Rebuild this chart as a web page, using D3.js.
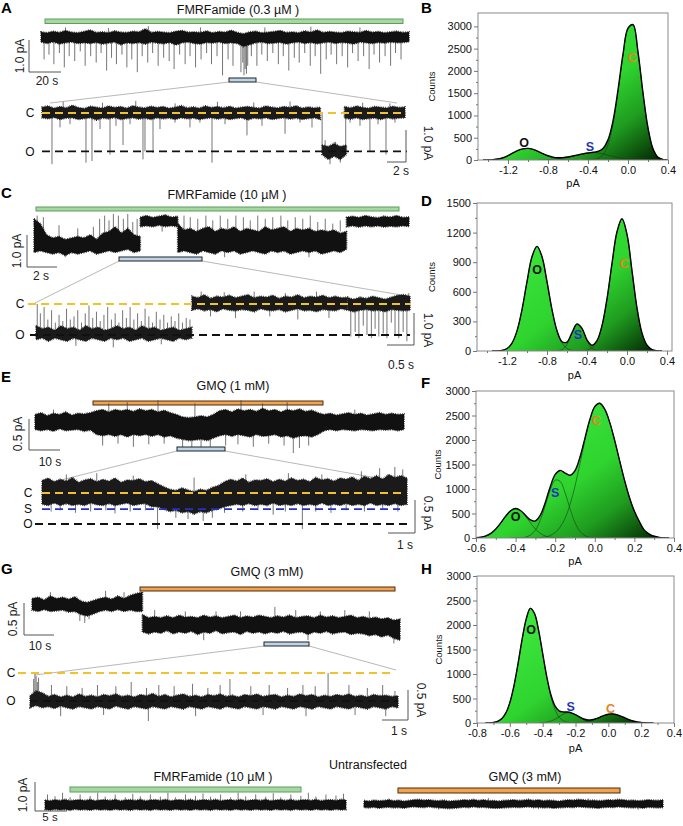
<!DOCTYPE html>
<html>
<head>
<meta charset="utf-8">
<script src="https://cdn.jsdelivr.net/npm/d3@7"></script>
<style>
  body { margin: 0; background: #fff; }
  svg { display: block; }
  text { font-family: "Liberation Sans", Arial, sans-serif; }
</style>
</head>
<body>
<svg id="fig" width="683" height="826"></svg>
<script>
// ---------- current traces, pA (closed level = 0) ----------
// dense recordings are kept as [upper, lower] envelope pairs per time step,
// single events (brief openings / spikes) as [time, to, from]
const aTopBand = [
  [.16,-.16],[.13,-.2],[.18,-.15],[.14,-.22],[.2,-.18],[.15,-.16],[.13,-.2],[.17,-.18],[.22,-.2],[.14,-.17],
  [.16,-.22],[.13,-.19],[.19,-.16],[.15,-.24],[.14,-.18],[.18,-.2],[.16,-.17],[.26,-.22],[.14,-.16],[.17,-.19],
  [.15,-.21],[.13,-.17],[.18,-.25],[.2,-.18],[.15,-.16],[.16,-.2],[.14,-.22],[.19,-.17],[.13,-.19],[.17,-.16],
  [.15,-.2],[.21,-.18],[.14,-.2],[.1,-.3],[.16,-.24],[.18,-.18],[.13,-.16],[.15,-.2],[.17,-.19],[.2,-.17],
  [.14,-.22],[.16,-.18],[.13,-.16],[.19,-.2],[.15,-.17],[.22,-.21],[.14,-.18],[.17,-.16],[.15,-.2],[.13,-.17],
  [.18,-.19],[.16,-.22],[.14,-.16],[.2,-.18],[.15,-.2],[.17,-.17],[.13,-.19],[.16,-.16],[.18,-.18],[.14,-.17],[.16,-.15]
];
const aTopEvents = [
  [0.5,-.7],[1.3,-.55],[2.1,-.85],[3,-.5],[3.8,-.95],[4.6,-.6],[5.5,-.75],[6.4,-.45],[7.2,-.9],[8.1,-.6],
  [9,-.8],[9.8,-.5],[10.7,-1.05],[11.5,-.65],[12.3,-.85],[13.2,-.55],[14,-.95],[14.8,-.7],[15.7,-1.1],[16.5,-.6],
  [17.4,-.8],[18.2,-.5],[19.1,-.9],[20,-.65],[20.9,-.75],[21.7,-1],[22.6,-.55],[23.5,-.85],[24.3,-.6],[25.2,-.95],
  [26.1,-.7],[27,-.5],[27.8,-.85],[28.7,-.6],[29.6,-1.2],[30.5,-.7],[31.3,-.9],[32.6,-1.1],[32.9,-.8],[33.1,-1.2],
  [33.3,-1.0],[33.5,-1.15],[33.7,-.9],[34.3,-.6],[35.2,-.9],[36,-.55],[36.9,-.75],[37.8,-.5],[38.7,-.85],[39.5,-.6],
  [40.4,-1.05],[41.3,-.65],[42.1,-.8],[43,-.5],[43.9,-.9],[44.7,-.6],[45.6,-1.15],[46.5,-.7],[47.3,-.55],[48.2,-.85],
  [49.1,-.6],[50,-.95],[50.8,-.5],[51.7,-.75],[52.6,-.6],[53.5,-1],[54.3,-.55],[55.2,-.8],[56.1,-.6],[57,-.9],
  [57.8,-.5],[58.7,-.7],
  [4,.3],[11,.28],[17.5,.34],[26,.3],[36.5,.3],[44,.32],[52,.3]
];

const aZoomBand = [
  [.18,-.15],[.22,-.18],[.15,-.14],[.2,-.2],[.16,-.16],[.24,-.15],[.17,-.2],[.14,-.17],[.21,-.15],[.18,-.22],
  [.15,-.16],[.22,-.18],[.17,-.14],[.2,-.2],[.15,-.17],[.23,-.15],[.18,-.19],[.16,-.16],[.21,-.2],[.17,-.15],
  [.2,-.18],[.15,-.16],[.18,-.2],[.23,-.15],[.16,-.18],[.19,-.16],[.15,-.2],[.22,-.17],[.17,-.15],[.2,-.19],
  [.16,-.16],[.21,-.2],[.15,-.17],[.18,-.15],[.2,-.22],[.17,-.16],[.15,-.18],[.22,-.15],[.18,-.2],[.16,-.17],
  [.2,-.15],[.17,-.19],[.23,-.16],[.15,-.2],[.19,-.17],[.16,-.15],[.18,-.2],null,null,null,
  [.2,-.16],[.16,-.19],[.22,-.15],[.17,-.2],[.15,-.17],[.2,-.16],[.18,-.2],[.16,-.15],[.21,-.18],[.17,-.16],[.19,-.15]
];
const aZoomBurst = [[-1.0,-1.3],[-1.05,-1.45],[-.95,-1.35],[-1.05,-1.45],[-1.0,-1.3]];
const aZoomEvents = [
  [1.65,-1.6],[2.98,-.45],[4.63,-.35],[7.27,-1.55],[8.26,-1.5],[9.59,-.5],[11.24,-1.3],[12.23,-.4],[13.39,-1.0],
  [14.55,-.35],[16.69,-1.45],[17.02,-1.2],[18.35,-1.25],[19.5,-.5],[21.98,-.3],[24.46,-.45],[26.1,-.3],[28.1,-1.55],
  [30.25,-.35],[33.88,-.7],[36.36,-.4],[40.17,-.65],[42.64,-.3],[44.63,-.45],[46.3,-1.2],[50.2,-1.2],[50.91,-.3],
  [52.56,-.4],[54.2,-1.2],[55.54,-.35],[56.86,-1.3],[58.35,-.3],
  [46.8,-.85,-1.2],[47.6,-1.6,-1.2],[48.5,-.9,-1.2],[49.3,-1.55,-1.2],
  [3.5,.35],[10,.32],[15.5,.38],[22,.3],[29,.35],[35,.33],[41,.36],[53,.32],[57.5,.3]
];
const aLevels = [0, -1.2];

const cTopSeg1 = [
  [.1,-.95],[-.05,-.9],[-.4,-.95],[-.5,-1.0],[-.45,-.95],[-.55,-1.05],[-.5,-.95],[-.45,-1.0],[-.5,-.95],[-.4,-.9],
  [-.55,-1.0],[-.35,-.95],[-.3,-.9],[-.15,-.95],[-.35,-.9],[-.2,-.85],[-.4,-.95],[-.45,-.9]
];
const cTopSeg2 = [[.15,-.15],[.2,-.12],[.14,-.15],[.18,-.1],[.22,-.14],[.15,-.12],[.18,-.15]];
const cTopSeg3 = [
  [-.05,-.95],[-.25,-.9],[-.2,-.95],[-.3,-1.0],[-.2,-.9],[-.15,-.95],[-.3,-1.0],[-.2,-.9],[-.25,-.95],[-.15,-.9],
  [-.3,-1.0],[-.2,-.95],[-.25,-.9],[-.3,-.95],[-.15,-1.0],[-.25,-.9],[-.2,-.95],[-.15,-.9],[-.3,-1.0],[-.2,-.95],
  [-.25,-.9],[-.2,-.95],[-.3,-.9],[-.25,-1.0],[-.3,-.95],[-.25,-.9],[-.35,-.95],[-.3,-.85]
];
const cTopSeg4 = [[.15,-.15],[.18,-.12],[.14,-.16],[.2,-.12],[.16,-.15],[.13,-.12],[.18,-.16],[.15,-.13],[.2,-.15],[.14,-.12],[.16,-.14]];
const cTopEvents = [
  [0.5,.2,-.5],[1.5,.15,-.5],[4,-.1,-.6],[7,-.2,-.6],[9.5,-.15,-.6],[10.5,.1,-.5],[11.3,.2,-.5],[12,.05,-.4],
  [12.7,.25,-.4],[13.5,.2,-.4],[14.3,.1,-.4],[15,.25,-.4],[15.8,0,-.4],[16.5,.1,-.4],
  [24,.2,-.3],[25,.15,-.3],[26.2,.1,-.3],[27.5,.2,-.3],[28.6,.05,-.3],[29.8,.2,-.3],[31,.1,-.3],[32.3,.2,-.3],
  [33.5,.15,-.3],[34.6,.05,-.3],[35.8,.2,-.3],[37,.1,-.3],[38.2,.15,-.3],[39.5,.2,-.3],[40.6,.05,-.3],[41.8,.15,-.3],
  [43,.1,-.3],[44.2,.2,-.3],[45.4,0,-.3],[46.6,.1,-.3],[47.8,-.05,-.3],[49,.05,-.3],
  [5,-1.1,-.9],[20.5,-.3,-.1],[30.5,-1.1,-.9],[44,-1.1,-.9]
];

const cZoomSeg1 = [
  [-.7,-1.15],[-.8,-1.1],[-.75,-1.2],[-.85,-1.1],[-.7,-1.15],[-.8,-1.2],[-.75,-1.1],[-.85,-1.15],[-.7,-1.2],[-.8,-1.1],
  [-.75,-1.15],[-.85,-1.2],[-.8,-1.1],[-.7,-1.15],[-.8,-1.1],[-.75,-1.2],[-.85,-1.15],[-.7,-1.1],[-.8,-1.2],[-.75,-1.15],
  [-.85,-1.1],[-.8,-1.15],[-.75,-1.2],[-.85,-1.1],[-.8,-1.15],[-.75,-1.1]
];
const cZoomSeg2 = [
  [.25,-.2],[.2,-.15],[.3,-.22],[.18,-.18],[.25,-.25],[.22,-.15],[.28,-.2],[.2,-.22],[.25,-.18],[.3,-.2],
  [.2,-.25],[.25,-.15],[.22,-.2],[.28,-.22],[.18,-.18],[.25,-.25],[.22,-.2],[.3,-.15],[.2,-.22],[.25,-.2],
  [.22,-.25],[.28,-.18],[.2,-.2],[.25,-.22],[.2,-.15],[.22,-.2]
];
const cZoomSeg3 = [[.2,-.2],[.15,-.25],[.22,-.2],[.18,-.18],[.25,-.22],[.2,-.2],[.15,-.25],[.22,-.18],[.28,-.2],[.3,-.22],[.25,-.2]];
const cZoomEvents = [
  [0.2,0,-.8],[0.7,-.3,-.8],[1.3,-.1,-.8],[1.9,-.5,-.8],[2.5,-.2,-.8],[3.1,-.6,-.8],[3.7,-.35,-.8],[4.3,-.55,-.8],
  [4.9,-.15,-.8],[5.5,-.5,-.8],[6.1,-.4,-.8],[6.7,-.2,-.8],[7.3,-.6,-.8],[7.9,-.3,-.8],[8.5,-.05,-.8],[9.1,-.45,-.8],
  [9.7,-.25,-.8],[10.3,-.55,-.8],[10.9,-.35,-.8],[11.5,-.1,-.8],[12.1,-.5,-.8],[12.7,-.3,-.8],[13.3,-.6,-.8],
  [13.9,-.2,-.8],[14.5,-.45,-.8],[15.1,-.1,-.8],[15.7,-.5,-.8],[16.3,-.3,-.8],[16.9,-.55,-.8],[17.5,-.15,-.8],
  [18.1,-.4,-.8],[18.7,-.6,-.8],[19.3,-.25,-.8],[19.9,-.5,-.8],[20.5,-.35,-.8],[21.1,-.6,-.8],[21.7,-.4,-.8],
  [22.3,-.55,-.8],[22.9,-.3,-.8],[23.5,-.6,-.8],[24.1,-.45,-.8],[24.7,-.5,-.8],
  [6.4,-1.35,-1],[12.4,-1.4,-1],[20.1,-1.3,-1],
  [26.5,.4],[28,-.4],[30.2,.38],[32,-.45],[35,.4],[37.5,-.4],[40,.35],[42,-.5],[45,.4],[47,-.45],
  [50.5,-1.05],[51.2,-.9],[51.8,-1.1],[52.5,-.7],[53.1,-1.0],[53.8,-1.1],[54.4,-.8],[55,-1.05],[55.7,-.95],
  [56.3,-1.1],[57,-.6],[57.6,-1.0],[58.2,-1.1],[58.9,-.9],[59.5,-1.2],[59.8,.35]
];
const cLevels = [0, -1.0];

const eTopBand = [
  [.12,-.12],[.15,-.14],[.1,-.12],[.14,-.15],[.12,-.11],[.16,-.14],[.11,-.13],[.14,-.12],[.13,-.15],[.15,-.13],
  [.18,-.2],[.2,-.22],[.16,-.2],[.2,-.23],[.18,-.2],[.2,-.24],[.17,-.2],[.21,-.22],[.18,-.2],[.2,-.23],
  [.16,-.2],[.19,-.24],[.15,-.22],[.12,-.26],[.08,-.28],[.07,-.3],[.08,-.29],[.1,-.28],[.08,-.3],[.12,-.26],
  [.18,-.22],[.2,-.2],[.16,-.23],[.21,-.2],[.18,-.22],[.2,-.24],[.17,-.2],[.22,-.23],[.18,-.22],[.2,-.2],
  [.16,-.24],[.2,-.22],[.18,-.26],[.21,-.23],[.17,-.22],[.19,-.24],[.15,-.2],[.12,-.14],[.14,-.12],[.11,-.14],
  [.13,-.12],[.15,-.13],[.12,-.14],[.14,-.12],[.11,-.13],[.13,-.14],[.15,-.12],[.12,-.13],[.14,-.12],[.12,-.14],[.13,-.12]
];
const eTopEvents = [
  [11,-.38],[13.5,-.35],[16,-.4],[18.5,-.36],[21,-.35],[24,-.45],[25.5,-.42],[27,-.47],[28.5,-.4],[31,-.38],
  [33,-.36],[35.5,-.4],[38,-.35],[40.5,-.38],[42,-.5],[43,-.42],[44.5,-.38],
  [12,.3],[15,.32],[20,.35],[26,.3],[33.5,.35],[37,.3],[41,.32],[3,.2],[52,.2]
];

const eZoomBand = [
  [.2,-.18],[.24,-.2],[.18,-.16],[.22,-.2],[.19,-.17],[.25,-.2],[.17,-.18],[.21,-.2],[.23,-.16],[.18,-.19],
  [.22,-.2],[.19,-.17],[.24,-.2],[.17,-.18],[.21,-.16],[.2,-.2],[.23,-.18],[.18,-.17],[.2,-.22],[.15,-.22],
  [.1,-.26],[.06,-.3],[.04,-.28],[.08,-.32],[.05,-.3],[.02,-.34],[.06,-.3],[.04,-.32],[.09,-.28],[.12,-.26],
  [.18,-.22],[.22,-.2],[.19,-.18],[.24,-.2],[.17,-.17],[.21,-.2],[.2,-.18],[.23,-.2],[.18,-.16],[.22,-.2],
  [.19,-.18],[.24,-.2],[.2,-.17],[.22,-.2],[.18,-.18],[.25,-.2],[.21,-.16],[.23,-.2],[.19,-.18],[.24,-.2],
  [.22,-.17],[.26,-.2],[.2,-.18],[.27,-.2],[.23,-.16],[.28,-.2],[.22,-.18],[.3,-.2],[.25,-.17],[.28,-.2],[.24,-.18]
];
const eZoomEvents = [
  [1.5,-.3],[3,-.28],[5.5,-.32],[8,-.3],[10.5,-.28],[12,-.33],[14.5,-.3],[17,-.28],[19,-.58],[22,-.4],
  [24,-.42],[26.5,-.45],[28,-.4],[30,-.32],[33,-.3],[35.5,-.28],[38,-.35],[40,-.3],[42.8,-.58],[45,-.3],
  [47.5,-.32],[50,-.28],[53,-.3],[56,-.25],[58.5,-.3],
  [4,.3],[9,.32],[15,.28],[25,.25],[33.5,.3],[40.5,.32],[46,.3],[52.5,.35],[55.5,.4],[58,.42],[59.3,.38]
];
const eLevels = [0, -0.26, -0.5];

const gTopSeg1 = [
  [.1,-.08],[.12,-.1],[.08,-.07],[.14,-.1],[.1,-.09],[.12,-.08],[.09,-.11],[.13,-.1],[.06,-.15],[.04,-.17],
  [.07,-.14],[.1,-.1],[.12,-.08],[.09,-.1],[.14,-.07],[.1,-.1],[.15,-.08],[.18,-.1],[.2,-.1]
];
const gTopSeg2 = [
  [-.15,-.42],[-.2,-.45],[-.18,-.42],[-.2,-.44],[-.17,-.4],[-.2,-.45],[-.16,-.42],[-.19,-.44],[-.18,-.41],[-.2,-.46],
  [-.16,-.42],[-.19,-.44],[-.17,-.4],[-.2,-.45],[-.18,-.43],[-.16,-.42],[-.2,-.46],[-.17,-.41],[-.19,-.44],[-.16,-.42],
  [-.18,-.45],[-.2,-.42],[-.17,-.44],[-.19,-.41],[-.16,-.45],[-.2,-.43],[-.18,-.42],[-.17,-.46],[-.2,-.42],[-.16,-.44],
  [-.19,-.41],[-.17,-.45],[-.2,-.43],[-.18,-.42],[-.16,-.46],[-.2,-.44],[-.18,-.45],[-.21,-.48],[-.19,-.46],[-.22,-.5],
  [-.2,-.47],[-.24,-.52],[-.22,-.55]
];
const gTopEvents = [
  [39.6,-.03,-.3],[20,-.08,-.3],[25,-.1,-.3],[30,-.1,-.3],[34,-.1,-.3],[43,-.08,-.3],[47,-.1,-.3],[51,-.08,-.3],
  [55,-.1,-.3],[3,.2],[12,.22],[15,.2],[7.8,-.25],[8.6,-.28],[9.3,-.22],
  [28,-.55,-.3],[45,-.55,-.3],[59,-.6,-.3]
];

const gZoomBand = [
  [-.38,-.58],[-.3,-.54],[-.33,-.58],[-.39,-.56],[-.36,-.59],[-.4,-.55],[-.37,-.58],[-.4,-.6],[-.35,-.56],[-.39,-.58],
  [-.37,-.6],[-.4,-.56],[-.36,-.58],[-.38,-.6],[-.35,-.55],[-.39,-.58],[-.37,-.6],[-.4,-.56],[-.36,-.58],[-.38,-.6],
  [-.34,-.56],[-.39,-.58],[-.36,-.6],[-.4,-.56],[-.37,-.58],[-.35,-.6],[-.39,-.56],[-.37,-.58],[-.4,-.6],[-.36,-.56],
  [-.38,-.58],[-.35,-.6],[-.39,-.56],[-.37,-.58],[-.4,-.6],[-.36,-.56],[-.38,-.58],[-.35,-.6],[-.39,-.56],[-.37,-.58],
  [-.36,-.6],[-.4,-.56],[-.37,-.58],[-.39,-.6],[-.35,-.56],[-.38,-.58],[-.36,-.6],[-.4,-.56],[-.37,-.58],[-.39,-.6],
  [-.36,-.56],[-.38,-.58],[-.35,-.6],[-.39,-.56],[-.37,-.58],[-.4,-.6],[-.36,-.56],[-.38,-.58],[-.37,-.6],[-.39,-.56],[-.38,-.58]
];
const gZoomEvents = [
  [0.6,-.1,-.4],[0.8,0,-.4],[1.0,-.05,-.4],[1.2,-.15,-.4],[1.4,-.08,-.4],
  [3.5,-.2,-.4],[6,-.22,-.4],[8.5,-.25,-.4],[11,-.2,-.4],[14,-.22,-.4],[16.5,-.15,-.4],
  [19,-.25,-.4],[21,-.2,-.4],[23.5,-.22,-.4],[26.5,-.18,-.4],[29,-.25,-.4],[31,-.2,-.4],[32.6,-.1,-.4],[36,-.22,-.4],
  [39,-.2,-.4],[42,-.25,-.4],[44.5,-.2,-.4],[46.5,-.22,-.4],[48.6,0,-.4],[52,-.2,-.4],[55,-.25,-.4],[57.5,-.2,-.4],
  [59.5,-.3,-.4],
  [19.3,-.8,-.5],[5,-.72,-.5],[12,-.7,-.5],[27,-.72,-.5],[38,-.7,-.5],[45,-.72,-.5],[53,-.7,-.5],[58,-.72,-.5]
];
const gLevels = [0, -0.47];

const uFmrfBand = [
  [.14,-.13],[.12,-.15],[.15,-.12],[.13,-.14],[.16,-.13],[.12,-.15],[.14,-.12],[.15,-.14],[.13,-.13],[.16,-.15],
  [.12,-.12],[.14,-.14],[.15,-.13],[.13,-.15],[.16,-.12],[.12,-.14],[.14,-.13],[.15,-.15],[.13,-.12],[.16,-.14],
  [.12,-.13],[.14,-.15],[.15,-.12],[.13,-.14],[.16,-.13],[.12,-.15],[.14,-.12],[.15,-.14],[.13,-.13],[.16,-.15],
  [.12,-.12],[.14,-.14],[.15,-.13],[.13,-.15],[.16,-.12],[.12,-.14],[.14,-.13],[.15,-.15],[.13,-.12],[.16,-.14],
  [.12,-.13],[.14,-.15],[.15,-.12],[.13,-.14],[.16,-.13],[.12,-.15],[.14,-.12],[.15,-.14],[.13,-.13],[.16,-.15],
  [.12,-.12],[.14,-.14],[.15,-.13],[.13,-.15],[.16,-.12],[.12,-.14],[.14,-.13],[.15,-.15],[.13,-.12],[.16,-.14],[.14,-.13]
];
const uFmrfEvents = [
  [0.5,.3],[2,.25],[3.5,.35],[5,.22],[7,.3],[9,.26],[10.5,.35],[12,.24],[14,.3],[16,.22],[17.5,.32],[19,.25],
  [21,.3],[23,.24],[24.5,.35],[26,.22],[28,.3],[30,.26],[31.5,.33],[33,.24],[35,.3],[37,.22],[38.5,.35],[40,.25],
  [42,.3],[44,.24],[45.5,.34],[47,.22],[49,.3],[51,.26],[52.5,.35],[54,.24],[56,.3],[58,.27],[59.5,.32]
];
const uGmqBand = [
  [.1,-.1],[.08,-.11],[.11,-.09],[.09,-.12],[.1,-.1],[.12,-.09],[.09,-.11],[.11,-.1],[.08,-.12],[.1,-.09],
  [.12,-.08],[.13,-.09],[.11,-.1],[.12,-.08],[.1,-.1],[.09,-.11],[.11,-.12],[.08,-.13],[.09,-.12],[.1,-.11],
  [.12,-.09],[.11,-.1],[.13,-.08],[.1,-.1],[.12,-.09],[.09,-.11],[.1,-.12],[.08,-.12],[.1,-.11],[.11,-.1],
  [.12,-.09],[.1,-.1],[.11,-.09],[.13,-.08],[.1,-.1],[.12,-.09],[.09,-.11],[.11,-.1],[.1,-.12],[.08,-.11],
  [.1,-.1],[.12,-.09],[.11,-.1],[.13,-.08],[.12,-.09],[.1,-.1],[.11,-.11],[.09,-.12],[.1,-.1],[.12,-.09],
  [.11,-.1],[.13,-.08],[.12,-.09],[.1,-.1],[.11,-.11],[.09,-.1],[.1,-.12],[.12,-.09],[.11,-.1],[.1,-.11],[.12,-.1]
];
const uGmqEvents = [[5,.16],[15,-.16],[25,.17],[35,-.15],[45,.16],[55,-.16]];

// ---------- amplitude histograms (counts per bin) ----------
// B and D: bins from -1.5 pA in 0.05 steps
const bO = [0,0,2,8,22,50,100,160,215,250,260,240,195,140,88,48,22,9,3,1,
            0,0,0,0,0,0,0,0,0,0,0,0,0,0,0,0,0,0,0];
const bS = [0,0,0,0,0,0,0,0,0,0,0,0,0,
            3,8,16,28,45,65,90,115,138,155,165,158,140,110,80,55,35,20,10,4,1,
            0,0,0,0,0];
const bC = [0,0,0,0,0,0,0,0,0,0,0,0,0,0,0,0,0,0,0,0,0,0,
            3,8,34,119,342,799,1517,2342,2940,3030,2420,1500,720,250,60,10,0];
const dO = [0,0,0,0,1,6,25,81,204,419,702,956,1060,956,702,419,204,81,25,6,1,
            0,0,0,0,0,0,0,0,0,0,0,0,0,0,0,0,0,0];
const dS = [0,0,0,0,0,0,0,0,0,0,0,0,0,0,0,0,
            1,13,66,180,272,227,105,27,4,
            0,0,0,0,0,0,0,0,0,0,0,0,0,0];
const dC = [0,0,0,0,0,0,0,0,0,0,0,0,0,0,0,0,0,0,0,0,0,
            2,8,33,102,257,529,887,1209,1340,1182,813,435,181,59,15,3,0,0];
// F: bins from -0.6 pA in 0.025 steps
const fO = [5,16,42,94,184,308,446,557,600,557,446,308,184,94,42,16,5,1,
            0,0,0,0,0,0,0,0,0,0,0,0,0,0,0,0,0,0,0,0,0,0,0];
const fS = [0,0,0,0,0,0,0,0,
            1,4,17,59,162,363,662,980,1181,1156,921,597,314,135,47,13,3,1,
            0,0,0,0,0,0,0,0,0,0,0,0,0,0,0];
const fC = [0,0,0,0,0,0,0,0,0,0,0,
            1,3,9,22,52,112,222,405,684,1060,1512,1987,2405,2678,2748,2629,2365,1997,1585,
            1181,828,544,336,160,80,35,12,3,0,0];
// H: bins from -0.8 pA in 0.025 steps
const hO = [0,0,0,
            3,10,32,85,201,416,756,1213,1711,2126,2340,2237,1895,1413,928,537,273,122,48,17,5,1,
            0,0,0,0,0,0,0,0,0,0,0,0,0,0,0,0,0,0,0,0,0,0,0,0];
const hS = [0,0,0,0,0,0,0,0,0,0,0,0,0,0,0,0,
            6,17,39,77,127,177,207,203,168,117,68,33,14,5,1,
            0,0,0,0,0,0,0,0,0,0,0,0,0,0,0,0,0,0];
const hC = [0,0,0,0,0,0,0,0,0,0,0,0,0,0,0,0,0,0,0,0,0,0,0,0,
            2,6,14,29,51,83,120,155,178,185,171,141,105,69,41,22,10,4,2,
            0,0,0,0,0,0];

const xTicksWide = [-1.2, -0.8, -0.4, 0, 0.4];
const xTicksF = [-0.6, -0.4, -0.2, 0, 0.2, 0.4];
const xTicksH = [-0.8, -0.6, -0.4, -0.2, 0, 0.2, 0.4];
const yTicks3000 = [0, 500, 1000, 1500, 2000, 2500, 3000];
const yTicks1500 = [0, 300, 600, 900, 1200, 1500];

const COL = {
  yellow: '#f2c12e', blue: '#2430c8', black: '#111',
  green: '#a6d9a0', greenEdge: '#5f9a5f', orange: '#f3a24e', orangeEdge: '#4a2c10',
  box: '#bcd5ea', grey: '#9a9a9a', O: '#111', S: '#2233bb', C: '#e8801e'
};

const svg = d3.select('#fig');
const defs = svg.append('defs');
svg.append('rect').attr('width', 683).attr('height', 826).attr('fill', '#fff');

function txt(x, y, s, opt = {}) {
  const t = svg.append('text').attr('x', x).attr('y', y).text(s)
    .attr('font-size', opt.size || 12)
    .attr('fill', opt.fill || '#111')
    .attr('text-anchor', opt.anchor || 'middle');
  if (opt.bold) t.attr('font-weight', 'bold');
  if (opt.rotate) t.attr('transform', `rotate(${opt.rotate},${x},${y})`);
  return t;
}

// draws envelope bands and single events of one recording, returns its pA scale
function drawTrace(b) {
  const x = d3.scaleLinear().domain([0, b.n]).range([b.x0, b.x1]);
  const y = d3.scaleLinear().domain([0, 1]).range([b.y0, b.y0 - b.ppa]);
  const g = svg.append('g');
  (b.events || []).forEach(e => {
    g.append('line')
      .attr('x1', x(e[0])).attr('x2', x(e[0]))
      .attr('y1', y(e.length > 2 ? e[2] : 0)).attr('y2', y(e[1]))
      .attr('stroke', '#3a3a3a').attr('stroke-width', 0.7);
  });
  b.bands.forEach(band => {
    const area = d3.area()
      .defined(d => d != null)
      .x((d, i) => x(band.start + i))
      .y0(d => y(d[1]))
      .y1(d => y(d[0]));
    // ragged outline imitates the sample-to-sample noise at the band edges
    g.append('path').attr('d', area(band.v))
      .attr('fill', b.fill || '#111')
      .attr('stroke', b.fill || '#111').attr('stroke-width', 1.8)
      .attr('stroke-dasharray', '0.7,1.1')
      .attr('stroke-linejoin', 'round');
  });
  return y;
}

function drawLevels(y, levels, colors, spans) {
  levels.forEach((lv, i) => {
    svg.append('line')
      .attr('x1', spans[i][0]).attr('x2', spans[i][1])
      .attr('y1', y(lv)).attr('y2', y(lv))
      .attr('stroke', colors[i]).attr('stroke-width', 1.8)
      .attr('stroke-dasharray', '8,5');
  });
}

function bar(x0, x1, y0, h, fill, edge) {
  svg.append('rect').attr('x', x0).attr('y', y0).attr('width', x1 - x0).attr('height', h)
    .attr('fill', fill).attr('stroke', edge).attr('stroke-width', 1);
}

function zoomBox(x0, x1, y0, l, r) {
  svg.append('line').attr('x1', x0).attr('y1', y0 + 4).attr('x2', l[0]).attr('y2', l[1])
    .attr('stroke', COL.grey).attr('stroke-width', 0.7);
  svg.append('line').attr('x1', x1).attr('y1', y0 + 4).attr('x2', r[0]).attr('y2', r[1])
    .attr('stroke', COL.grey).attr('stroke-width', 0.7);
  svg.append('rect').attr('x', x0).attr('y', y0).attr('width', x1 - x0).attr('height', 4)
    .attr('fill', COL.box).attr('stroke', '#222').attr('stroke-width', 1);
}

function scaleBar(xv, yTop, yBot, xEnd, labV, labH, side) {
  svg.append('path')
    .attr('d', `M${xv},${yTop}V${yBot}H${xEnd}`)
    .attr('fill', 'none').attr('stroke', '#555').attr('stroke-width', 1);
  txt(labV.x, labV.y, labV.s, { size: 12, rotate: side === 'left' ? -90 : 90, fill: '#222' })
    .attr('dominant-baseline', 'central');
  txt(labH.x, labH.y, labH.s, { size: labH.size || 12, fill: '#222' });
}

function drawHist(cfg) {
  const g = svg.append('g');
  const x = d3.scaleLinear().domain(cfg.xDomain).range([cfg.left, cfg.right]);
  const y = d3.scaleLinear().domain(cfg.yDomain).range([cfg.bottom, cfg.top]);
  const n = cfg.comps[0].length;
  const xs = d3.range(n).map(i => cfg.xStart + i * cfg.step);
  const total = xs.map((v, i) => d3.sum(cfg.comps, c => c[i]));
  const pts = xs.map((v, i) => [v, total[i]]);

  const gid = 'grad' + cfg.name;
  const grad = defs.append('linearGradient').attr('id', gid)
    .attr('x1', 0).attr('y1', 0).attr('x2', 1).attr('y2', 1);
  cfg.stops.forEach(s => grad.append('stop').attr('offset', s[0]).attr('stop-color', s[1]));
  const cid = 'clip' + cfg.name;
  defs.append('clipPath').attr('id', cid).append('rect')
    .attr('x', cfg.left).attr('y', cfg.top)
    .attr('width', cfg.right - cfg.left).attr('height', cfg.bottom - cfg.top);

  const plot = g.append('g').attr('clip-path', `url(#${cid})`);
  const first = total.findIndex(v => v > 0);
  const last = n - 1 - [...total].reverse().findIndex(v => v > 0);
  const env = pts.slice(Math.max(0, first - 1), Math.min(n, last + 2));

  const area = d3.area().curve(d3.curveCatmullRom)
    .x(d => x(d[0])).y0(y(0)).y1(d => y(Math.max(0, d[1])));
  plot.append('path').attr('d', area(env)).attr('fill', `url(#${gid})`);

  const line = d3.line().curve(d3.curveCatmullRom)
    .x(d => x(d[0])).y(d => y(Math.max(0, d[1])));
  cfg.comps.forEach(c => {
    const cp = xs.map((v, i) => [v, c[i]])
      .filter((d, i) => c[i] > 0 || c[i - 1] > 0 || c[i + 1] > 0);
    plot.append('path').attr('d', line(cp))
      .attr('fill', 'none').attr('stroke', '#1d3a1d').attr('stroke-width', 0.6);
  });
  plot.append('path').attr('d', line(env))
    .attr('fill', 'none').attr('stroke', '#000').attr('stroke-width', 1.4);

  g.append('rect').attr('x', cfg.left).attr('y', cfg.top)
    .attr('width', cfg.right - cfg.left).attr('height', cfg.bottom - cfg.top)
    .attr('fill', 'none').attr('stroke', '#8a8a8a').attr('stroke-width', 1);

  const fmt = d => (Math.abs(d) < 1e-9 ? 0 : d).toFixed(1);
  const xMinor = cfg.xTicks.slice(1).map((v, i) => (v + cfg.xTicks[i]) / 2)
    .concat([cfg.xTicks[0] - (cfg.xTicks[1] - cfg.xTicks[0]) / 2])
    .filter(v => v > cfg.xDomain[0]);
  const xa = g.append('g').attr('transform', `translate(0,${cfg.bottom})`)
    .call(d3.axisBottom(x).tickValues(cfg.xTicks).tickSize(4).tickPadding(2).tickFormat(fmt));
  const xm = g.append('g').attr('transform', `translate(0,${cfg.bottom})`)
    .call(d3.axisBottom(x).tickValues(xMinor).tickSize(2).tickFormat(''));
  const ya = g.append('g').attr('transform', `translate(${cfg.left},0)`)
    .call(d3.axisLeft(y).tickValues(cfg.yTicks).tickSize(4).tickPadding(2).tickFormat(d3.format('d')));
  const ym = g.append('g').attr('transform', `translate(${cfg.left},0)`)
    .call(d3.axisLeft(y).tickValues(cfg.yTicks.slice(1).map((v, i) => (v + cfg.yTicks[i]) / 2))
      .tickSize(2).tickFormat(''));
  [xa, xm, ya, ym].forEach(a => {
    a.select('.domain').remove();
    a.selectAll('line').attr('stroke', '#777');
    a.selectAll('text').attr('font-size', 11).attr('fill', '#111')
      .attr('font-family', '"Liberation Sans", Arial, sans-serif');
  });

  txt(cfg.left - cfg.countsGap, (cfg.top + cfg.bottom) / 2, 'Counts', { size: 9.5, rotate: -90 })
    .attr('dominant-baseline', 'central');
  txt((cfg.left + cfg.right) / 2, cfg.pAy, 'pA', { size: 11 });

  cfg.labels.forEach(l => {
    g.append('text').attr('x', x(l[1])).attr('y', y(l[2])).text(l[0])
      .attr('text-anchor', 'middle').attr('dominant-baseline', 'central')
      .attr('font-size', 12.5).attr('font-weight', 'bold').attr('fill', COL[l[0]]);
  });
}

// ---------- panel letters ----------
[['A', 1, 13], ['B', 421, 13], ['C', 1, 198], ['D', 421, 206], ['E', 1, 382],
 ['F', 421, 388], ['G', 1, 574], ['H', 421, 574]].forEach(p =>
  txt(p[1], p[2], p[0], { size: 15, bold: true, anchor: 'start', fill: '#000' }));

// ---------- A ----------
txt(238, 14, 'FMRFamide (0.3 µM )', { size: 12.5 });
bar(45, 403, 19, 4.5, COL.green, COL.greenEdge);
drawTrace({ x0: 41, x1: 409, y0: 37, ppa: 32, n: 60,
  bands: [{ start: 0, v: aTopBand }], events: aTopEvents });
scaleBar(29, 40, 72, 61, { x: 20, y: 56, s: '1.0 pA' }, { x: 47, y: 85, s: '20 s' }, 'left');
zoomBox(229, 256, 78, [50, 103], [397, 103]);
const yA = drawTrace({ x0: 42, x1: 405, y0: 113, ppa: 32, n: 60, fill: '#1a1a1a',
  bands: [{ start: 0, v: aZoomBand }, { start: 46.3, v: aZoomBurst }], events: aZoomEvents });
drawLevels(yA, aLevels, [COL.yellow, COL.black], [[42, 405], [42, 407]]);
txt(30, 117, 'C', { size: 12 });
txt(30, 156, 'O', { size: 12 });
scaleBar(406, 130, 162, 387, { x: 428, y: 143, s: '1.0 pA' }, { x: 401, y: 175, s: '2 s' }, 'right');

// ---------- C ----------
txt(227, 199, 'FMRFamide (10 µM )', { size: 12.5 });
bar(36, 399, 207, 4, COL.green, COL.greenEdge);
drawTrace({ x0: 34, x1: 409, y0: 222, ppa: 32, n: 60,
  bands: [{ start: 0, v: cTopSeg1 }, { start: 17, v: cTopSeg2 }, { start: 23, v: cTopSeg3 }, { start: 50, v: cTopSeg4 }],
  events: cTopEvents });
scaleBar(27, 235, 267, 57, { x: 17, y: 251, s: '1.0 pA' }, { x: 41, y: 280, s: '2 s' }, 'left');
zoomBox(119, 202, 257, [35, 303], [407, 296]);
const yC = drawTrace({ x0: 36, x1: 410, y0: 304, ppa: 31, n: 60, fill: '#1a1a1a',
  bands: [{ start: 0, v: cZoomSeg1 }, { start: 25, v: cZoomSeg2 }, { start: 50, v: cZoomSeg3 }],
  events: cZoomEvents });
drawLevels(yC, cLevels, [COL.yellow, COL.black], [[28, 410], [30, 410]]);
txt(20, 308, 'C', { size: 12 });
txt(20, 339, 'O', { size: 12 });
scaleBar(414, 313, 345, 387, { x: 428, y: 330, s: '1.0 pA' }, { x: 401, y: 369, s: '0.5 s' }, 'right');

// ---------- E ----------
txt(233, 390, 'GMQ (1 mM)', { size: 12.5 });
bar(93, 323, 401, 4, COL.orange, COL.orangeEdge);
drawTrace({ x0: 35, x1: 404, y0: 422, ppa: 62, n: 60,
  bands: [{ start: 0, v: eTopBand }], events: eTopEvents });
scaleBar(29, 419, 450, 60, { x: 18, y: 434, s: '0.5 pA' }, { x: 50, y: 466, s: '10 s' }, 'left');
zoomBox(177, 225, 447, [45, 484], [405, 483]);
const yE = drawTrace({ x0: 42, x1: 407, y0: 493, ppa: 62, n: 60, fill: '#1a1a1a',
  bands: [{ start: 0, v: eZoomBand }], events: eZoomEvents });
drawLevels(yE, eLevels, [COL.yellow, COL.blue, COL.black], [[42, 405], [42, 400], [35, 408]]);
txt(28, 497, 'C', { size: 12 });
txt(28, 513, 'S', { size: 12 });
txt(28, 528, 'O', { size: 12 });
scaleBar(415, 500, 533, 388, { x: 428, y: 513, s: '0.5 pA' }, { x: 405, y: 549, s: '1 s' }, 'right');

// ---------- G ----------
txt(267, 576, 'GMQ (3 mM)', { size: 12.5 });
bar(140, 395, 587, 4, COL.orange, COL.orangeEdge);
drawTrace({ x0: 32, x1: 400, y0: 605, ppa: 64, n: 60,
  bands: [{ start: 0, v: gTopSeg1 }, { start: 18, v: gTopSeg2 }], events: gTopEvents });
scaleBar(24, 603, 635, 54, { x: 13, y: 619, s: '0.5 pA' }, { x: 40, y: 650, s: '10 s' }, 'left');
zoomBox(264, 309, 642, [35, 675], [396, 670]);
const yG = drawTrace({ x0: 30, x1: 398, y0: 673, ppa: 60, n: 60, fill: '#1a1a1a',
  bands: [{ start: 0, v: gZoomBand }], events: gZoomEvents });
drawLevels(yG, gLevels, [COL.yellow, COL.black], [[18, 393], [30, 398]]);
txt(11, 677, 'C', { size: 12 });
txt(11, 705, 'O', { size: 12 });
scaleBar(408, 690, 720, 382, { x: 421, y: 700, s: '0.5 pA' }, { x: 399, y: 735, s: '1 s' }, 'right');

// ---------- untransfected ----------
txt(368, 769, 'Untransfected', { size: 12.5 });
txt(213, 781, 'FMRFamide (10 µM )', { size: 12.5 });
txt(525, 781, 'GMQ (3 mM)', { size: 12.5 });
bar(70, 301, 787, 5, COL.green, COL.greenEdge);
bar(398, 620, 788, 5, COL.orange, COL.orangeEdge);
drawTrace({ x0: 45, x1: 346, y0: 805, ppa: 35, n: 60, bands: [{ start: 0, v: uFmrfBand }], events: uFmrfEvents });
drawTrace({ x0: 364, x1: 663, y0: 804, ppa: 35, n: 60, bands: [{ start: 0, v: uGmqBand }], events: uGmqEvents });
scaleBar(35, 782, 811, 67, { x: 23, y: 795, s: '1.0 pA' }, { x: 50, y: 821, s: '5 s', size: 11.5 }, 'left');

// ---------- histograms ----------
const stops = [[0, '#43ee43'], [0.55, '#2fd42f'], [0.75, '#1f9c1f'], [0.9, '#0c4d0c'], [1, '#021802']];
drawHist({ name: 'B', comps: [bO, bS, bC], xStart: -1.5, step: 0.05,
  xDomain: [-1.5, 0.4], yDomain: [0, 3300], left: 478, right: 668, top: 13, bottom: 160,
  xTicks: xTicksWide, yTicks: yTicks3000, countsGap: 47, pAy: 187, stops,
  labels: [['O', -1.04, 380], ['S', -0.38, 290], ['C', 0.04, 2290]] });
drawHist({ name: 'D', comps: [dO, dS, dC], xStart: -1.5, step: 0.05,
  xDomain: [-1.5, 0.45], yDomain: [0, 1500], left: 477, right: 672, top: 203, bottom: 351,
  xTicks: xTicksWide, yTicks: yTicks1500, countsGap: 46, pAy: 379, stops,
  labels: [['O', -0.9, 820], ['S', -0.49, 162], ['C', -0.03, 880]] });
drawHist({ name: 'F', comps: [fO, fS, fC], xStart: -0.6, step: 0.025,
  xDomain: [-0.6, 0.4], yDomain: [0, 3000], left: 476, right: 674, top: 391, bottom: 538,
  xTicks: xTicksF, yTicks: yTicks3000, countsGap: 39, pAy: 565, stops,
  labels: [['O', -0.4, 428], ['S', -0.2, 918], ['C', 0.007, 2388]] });
drawHist({ name: 'H', comps: [hO, hS, hC], xStart: -0.8, step: 0.025,
  xDomain: [-0.8, 0.4], yDomain: [0, 3000], left: 477, right: 674, top: 576, bottom: 723,
  xTicks: xTicksH, yTicks: yTicks3000, countsGap: 39, pAy: 752, stops,
  labels: [['O', -0.47, 1898], ['S', -0.23, 327], ['C', 0.014, 286]] });
</script>
</body>
</html>
